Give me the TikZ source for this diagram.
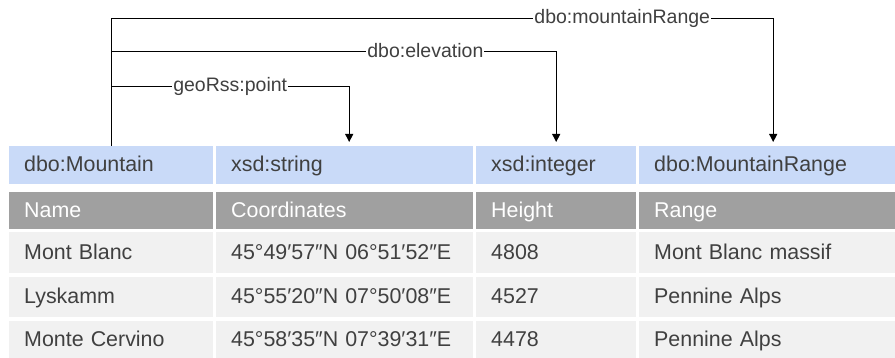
\documentclass[tikz,border=0pt]{standalone}
\usepackage{fontspec}
\setmainfont{Liberation Sans}
\usetikzlibrary{arrows.meta, calc, positioning}
\definecolor{TypeBlue}{HTML}{C9DAF8}
\definecolor{HeadGray}{HTML}{A0A0A0}
\definecolor{RowGray}{HTML}{F1F1F1}
\definecolor{DGray}{HTML}{404040}

\tikzset{
  cell/.style={anchor=north west, inner xsep=15pt, inner ysep=0pt, align=left,
    text height=16pt, text depth=3pt,
    font=\fontsize{21.4}{24}\selectfont, text=DGray},
  typecell/.style={cell, fill=TypeBlue},
  headcell/.style={cell, fill=HeadGray, text=white},
  datacell/.style={cell, fill=RowGray},
  link/.style={line width=0.9pt, -{Triangle[width=8pt,length=8pt]}, shorten >=4pt},
  prop/.style={fill=white, inner xsep=1pt, inner ysep=1pt, text=DGray,
    font=\fontsize{19.5}{22}\selectfont}
}

\begin{document}
\begin{tikzpicture}[x=1pt, y=-1pt]
  \useasboundingbox (0,0) rectangle (895,358);
  % Type row
  \node[typecell, text width=174pt, minimum height=38pt] (tMtn) at (9,146) {dbo:Mountain};
  \node[typecell, text width=227pt, minimum height=38pt] (tStr) at (216,146) {xsd:string};
  \node[typecell, text width=130pt, minimum height=38pt] (tInt) at (476,146) {xsd:integer};
  \node[typecell, text width=226pt, minimum height=38pt] (tRng) at (639,146) {dbo:MountainRange};
  % Header row
  \node[headcell, text width=174pt, minimum height=37pt] (hName) at (9,192) {Name};
  \node[headcell, text width=227pt, minimum height=37pt] (hCoord) at (216,192) {Coordinates};
  \node[headcell, text width=130pt, minimum height=37pt] (hHeight) at (476,192) {Height};
  \node[headcell, text width=226pt, minimum height=37pt] (hRange) at (639,192) {Range};
  % Data rows
  \foreach \r/\y/\rh/\nm/\co/\hgt/\rg in {
      1/232/41/Mont Blanc/45°49′57″N 06°51′52″E/4808/Mont Blanc massif,
      2/277/40/Lyskamm/45°55′20″N 07°50′08″E/4527/Pennine Alps,
      3/321/37/Monte Cervino/45°58′35″N 07°39′31″E/4478/Pennine Alps} {
    \node[datacell, text width=174pt, minimum height=\rh pt] (d\r a) at (9,\y) {\nm};
    \node[datacell, text width=227pt, minimum height=\rh pt] (d\r b) at (216,\y) {\co};
    \node[datacell, text width=130pt, minimum height=\rh pt] (d\r c) at (476,\y) {\hgt};
    \node[datacell, text width=226pt, minimum height=\rh pt] (d\r d) at (639,\y) {\rg};
  }
  % Properties
  \draw[line width=0.9pt] (tMtn.north) -- ($(tMtn.north)+(0,-128)$);
  \draw[link] ($(tMtn.north)+(0,-60)$) -| node[prop, pos=0.25] (pGeo) {geoRss:point}
    ([xshift=4.5pt]tStr.north);
  \draw[link] ($(tMtn.north)+(0,-95)$) -| node[prop, pos=0.353] (pEle) {dbo:elevation}
    (tInt.north);
  \draw[link] ($(tMtn.north)+(0,-128)$) -| node[prop, pos=0.386] (pRng) {dbo:mountainRange}
    ([xshift=6pt]tRng.north);
\end{tikzpicture}
\end{document}
